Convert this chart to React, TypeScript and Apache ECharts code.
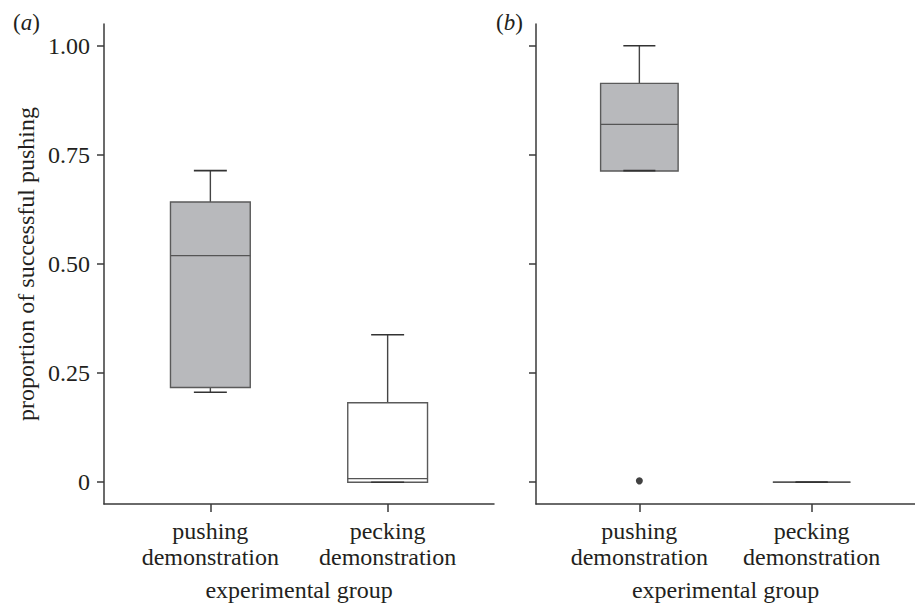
import React, { useEffect, useRef } from "react";
import * as echarts from "echarts";

// ---- data ----
const categories = ["pushing\ndemonstration", "pecking\ndemonstration"];
const groupPositions = [1, 2];
const yTicks = [0, 0.25, 0.5, 0.75, 1];
const yTickLabels = ["0", "0.25", "0.50", "0.75", "1.00"];
// [min, Q1, median, Q3, max]
const panelABoxes = [
  [0.206, 0.217, 0.519, 0.642, 0.714],
  [0.0, 0.0, 0.008, 0.182, 0.338],
];
const panelBBoxes = [
  [0.714, 0.713, 0.82, 0.914, 1.0],
  [0.0, 0.0, 0.0, 0.0, 0.0],
];
const panelBOutliers = [[1, 0.003]];
const panelTitles = ["a", "b"];
const xAxisName = "experimental group";
const yAxisName = "proportion of successful pushing";

// ---- styles ----
const FONT = "Liberation Serif";
const TEXT = "#231f20";
const AXIS = "#3a3a3a";
const boxFills = ["#b8b9bc", "#ffffff"];

function renderBox(params: any, api: any) {
  const x = api.value(0);
  const lo = api.value(1);
  const q1 = api.value(2);
  const med = api.value(3);
  const q3 = api.value(4);
  const hi = api.value(5);
  const unit = api.size([1, 0])[0];
  const bw = unit * 0.45;
  const cw = unit * 0.186;
  const [cx, yLo] = api.coord([x, lo]);
  const yQ1 = api.coord([x, q1])[1];
  const yMed = api.coord([x, med])[1];
  const yQ3 = api.coord([x, q3])[1];
  const yHi = api.coord([x, hi])[1];
  const fill = boxFills[params.dataIndex % boxFills.length];
  const whisk = { stroke: "#444", lineWidth: 1.4 };
  const cap = { stroke: "#333", lineWidth: 1.6 };
  return {
    type: "group",
    children: [
      { type: "line", shape: { x1: cx, y1: yQ3, x2: cx, y2: yHi }, style: whisk },
      { type: "line", shape: { x1: cx, y1: yQ1, x2: cx, y2: yLo }, style: whisk },
      {
        type: "rect",
        shape: { x: cx - bw / 2, y: yQ3, width: bw, height: yQ1 - yQ3 },
        style: { fill, stroke: "#5a5a5a", lineWidth: 1.4 },
      },
      {
        type: "line",
        shape: { x1: cx - bw / 2, y1: yMed, x2: cx + bw / 2, y2: yMed },
        style: { stroke: "#555", lineWidth: 1.3 },
      },
      { type: "line", shape: { x1: cx - cw / 2, y1: yHi, x2: cx + cw / 2, y2: yHi }, style: cap },
      { type: "line", shape: { x1: cx - cw / 2, y1: yLo, x2: cx + cw / 2, y2: yLo }, style: cap },
    ],
  };
}

function boxData(boxes: number[][]) {
  return boxes.map((b, i) => [groupPositions[i], ...b]);
}

export default function App() {
  const ref = useRef<HTMLDivElement>(null);
  useEffect(() => {
    if (!ref.current) return;
    const chart = echarts.init(ref.current, null, { renderer: "svg" });
    const xAxisBase = (idx: number) => ({
      type: "value",
      gridIndex: idx,
      min: 0.4,
      max: 2.6,
      name: xAxisName,
      nameLocation: "middle",
      nameGap: 74,
      nameTextStyle: { fontFamily: FONT, fontSize: 24, color: TEXT },
      axisLine: { show: true, onZero: false, lineStyle: { color: AXIS, width: 1.5 } },
      axisTick: { show: true, length: 8, customValues: groupPositions, lineStyle: { color: AXIS, width: 1.5 } },
      axisLabel: {
        customValues: groupPositions,
        formatter: (v: number) => categories[Math.round(v) - 1] ?? "",
        fontFamily: FONT,
        fontSize: 24,
        color: TEXT,
        lineHeight: 26,
        margin: 14,
      },
      splitLine: { show: false },
    });
    const yAxisBase = (idx: number, showLabels: boolean) => ({
      type: "value",
      gridIndex: idx,
      min: -0.05,
      max: 1.05,
      name: showLabels ? yAxisName : "",
      nameLocation: "middle",
      nameGap: 66,
      nameTextStyle: { fontFamily: FONT, fontSize: 24, color: TEXT },
      axisLine: { show: true, onZero: false, lineStyle: { color: AXIS, width: 1.5 } },
      axisTick: { show: true, length: 7, customValues: yTicks, lineStyle: { color: AXIS, width: 1.5 } },
      axisLabel: {
        show: showLabels,
        customValues: yTicks,
        formatter: (v: number) => {
          const i = yTicks.findIndex((t) => Math.abs(t - v) < 1e-6);
          return i >= 0 ? yTickLabels[i] : "";
        },
        fontFamily: FONT,
        fontSize: 24,
        color: TEXT,
        margin: 14,
      },
      splitLine: { show: false },
    });
    const option: any = {
      animation: false,
      backgroundColor: "#ffffff",
      title: panelTitles.map((t, i) => ({
        text: "({i|" + t + "})",
        left: i === 0 ? 8 : 491,
        top: 6,
        textStyle: {
          fontFamily: FONT,
          fontSize: 23,
          fontWeight: "normal",
          color: TEXT,
          rich: { i: { fontFamily: FONT, fontSize: 23, fontStyle: "italic", color: TEXT } },
        },
      })),
      grid: [
        { left: 104, top: 24, width: 390, height: 480 },
        { left: 536, top: 24, width: 390, height: 480 },
      ],
      xAxis: [xAxisBase(0), xAxisBase(1)],
      yAxis: [yAxisBase(0, true), yAxisBase(1, false)],
      series: [
        {
          type: "custom",
          xAxisIndex: 0,
          yAxisIndex: 0,
          renderItem: renderBox,
          encode: { x: 0, y: [1, 2, 3, 4, 5] },
          data: boxData(panelABoxes),
          clip: false,
        },
        {
          type: "custom",
          xAxisIndex: 1,
          yAxisIndex: 1,
          renderItem: renderBox,
          encode: { x: 0, y: [1, 2, 3, 4, 5] },
          data: boxData(panelBBoxes),
          clip: false,
        },
        {
          type: "scatter",
          xAxisIndex: 1,
          yAxisIndex: 1,
          symbol: "circle",
          symbolSize: 7,
          itemStyle: { color: "#111" },
          data: panelBOutliers,
        },
      ],
    };
    chart.setOption(option);
    return () => chart.dispose();
  }, []);
  return (
    <div
      ref={ref}
      style={{ position: "fixed", left: 0, top: 0, width: 915, height: 609, background: "#fff" }}
    />
  );
}
